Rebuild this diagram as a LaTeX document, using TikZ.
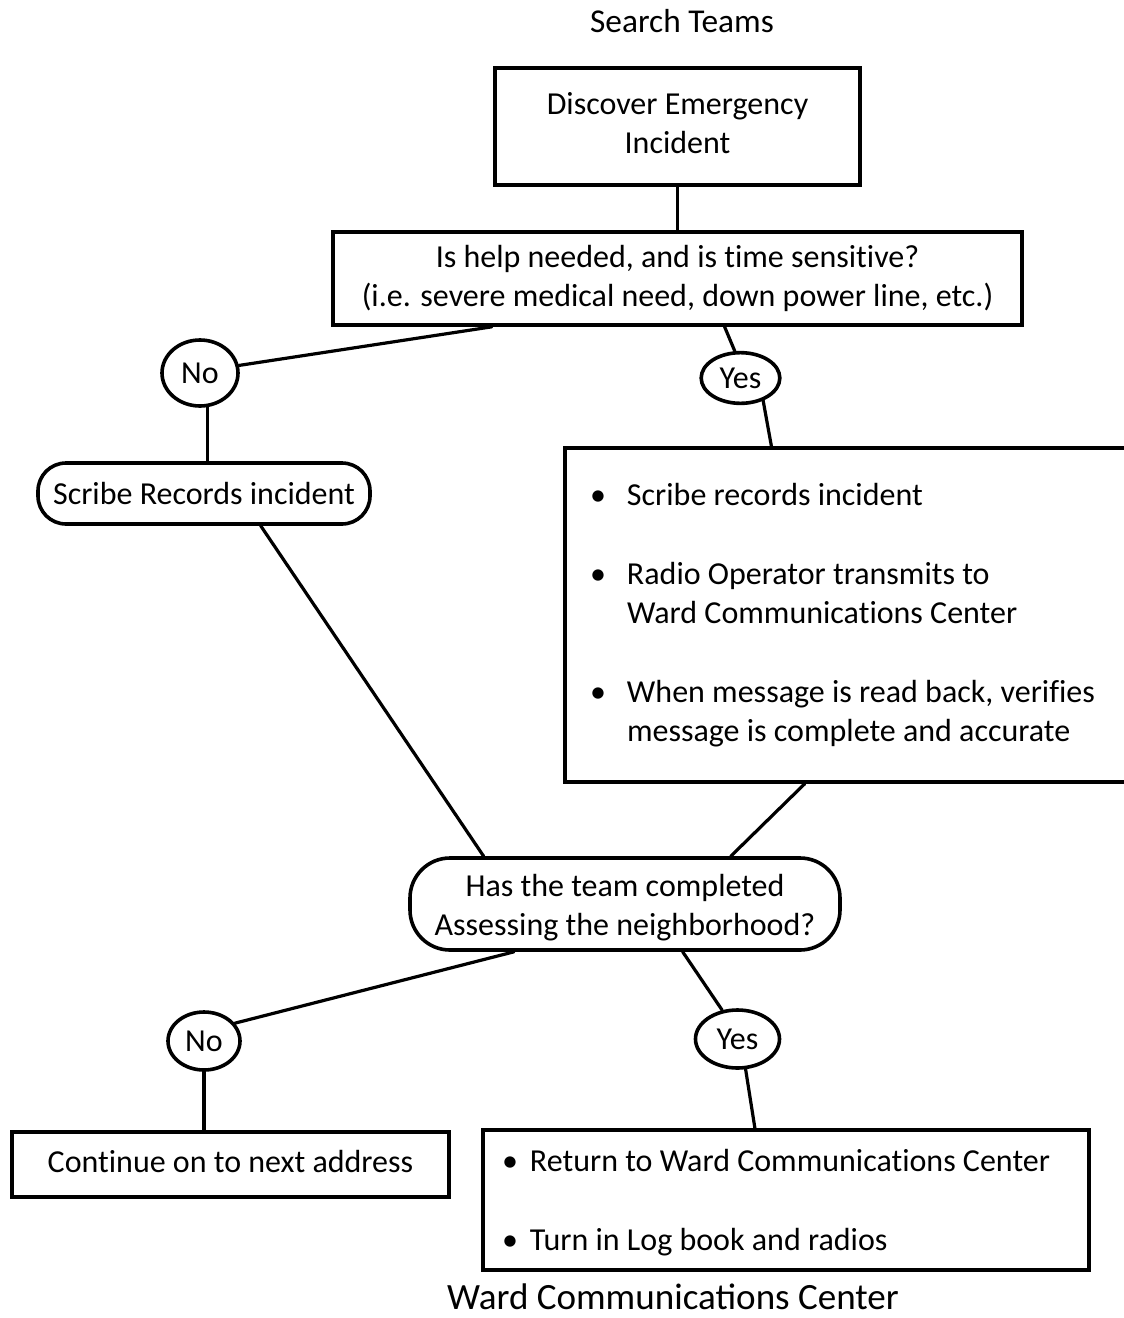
\documentclass[tikz,border=0pt]{standalone}
\usepackage{fontspec}
\setmainfont{Carlito}[Ligatures=NoCommon]
\usetikzlibrary{shapes.geometric,calc}
\begin{document}
\begin{tikzpicture}[x=0.75pt,y=-0.75pt,
  every node/.style={font=\fontsize{24}{29.25}\selectfont},
  box/.style={draw,rectangle,line width=2.7pt,inner sep=0pt,align=center},
  oval/.style={draw,ellipse,line width=2.7pt,inner sep=0pt},
  pill/.style={draw,rectangle,line width=2.7pt,inner sep=0pt,align=center},
  conn/.style={line width=2.4pt,line cap=round},
  titletext/.style={inner sep=0pt,anchor=base}]
\useasboundingbox (0,0) rectangle (1124,1318);
\clip (0,0) rectangle (1124,1318);

\node[titletext,font=\fontsize{25}{30}\selectfont] (title) at (682,32) {Search Teams};

\node[box,minimum width=273.75pt,minimum height=87.75pt] (box1) at (677.5,126.5)
  {\begin{tabular}{@{}c@{}}Discover Emergency\\Incident\end{tabular}};

\node[box,minimum width=516.75pt,minimum height=69.75pt] (box2) at (677.5,278.5)
  {\begin{tabular}{@{}c@{}}\rule{0pt}{22pt}Is help needed, and is time sensitive?\\(i.e. severe medical need, down power line, etc.)\end{tabular}};

\node[oval,minimum width=57pt,minimum height=49.5pt] (no1) at (200,373) {No};
\node[oval,minimum width=59pt,minimum height=38pt] (yes1) at (740.5,378) {Yes};

\node[pill,rounded corners=21pt,minimum width=249pt,minimum height=45.75pt] (scribe) at (204,493.5)
  {Scribe Records incident};

\node[box,minimum width=427.5pt,minimum height=250.5pt,inner xsep=3pt] (box3) at (850,615)
  {\makebox[421.5pt][l]{\begin{tabular}{@{}l@{}l@{}}
   \rule{0pt}{22pt}\makebox[43.5pt]{•} & Scribe records incident\\[30pt]
   \makebox[43.5pt]{•} & Radio Operator transmits to\\
    & Ward Communications Center\\[30pt]
   \makebox[43.5pt]{•} & When message is read back, verifies\\
    & message is complete and accurate
   \end{tabular}}};

\node[pill,rounded corners=30pt,minimum width=322.5pt,minimum height=69pt] (has) at (625,904)
  {\begin{tabular}{@{}c@{}}\rule{0pt}{26.5pt}Has the team completed\\Assessing the neighborhood?\end{tabular}};

\node[oval,minimum width=54pt,minimum height=43.5pt] (no2) at (204,1041) {No};
\node[oval,minimum width=63pt,minimum height=43.5pt] (yes2) at (737.5,1039) {Yes};

\node[box,minimum width=327.75pt,minimum height=48.75pt] (box4) at (230.5,1164.5)
  {\begin{tabular}{@{}c@{}}Continue on to next address\end{tabular}};

\node[box,minimum width=454.5pt,minimum height=105pt,inner xsep=5.25pt] (box5) at (786,1200)
  {\makebox[444pt][l]{\begin{tabular}{@{}l@{}l@{}}
   \rule{0pt}{25.5pt}\makebox[30pt]{•} & Return to Ward Communications Center\\[30pt]
   \makebox[30pt]{•} & Turn in Log book and radios
   \end{tabular}}};

\node[titletext,font=\fontsize{27.8}{33}\selectfont\addfontfeatures{Ligatures=Common}] (bottomtitle) at (673,1309) {Ward Communications Center};

% connectors
\draw[conn] (box1.south) -- (box2.north);
\draw[conn] ($(box2.south west)!0.232!(box2.south east)$) -- (no1.11);
\draw[conn] ($(box2.south west)!0.568!(box2.south east)$) -- (yes1.102);
\draw[conn] (yes1.-45) -- ($(box3.north west)!0.363!(box3.north east)$);
\draw[conn] (no1.-78) -- (no1.-78 |- scribe.north);
\draw[conn] ($(scribe.south west)!0.669!(scribe.south east)$) -- ($(has.north west)!0.174!(has.north east)$);
\draw[conn] ($(box3.south west)!0.421!(box3.south east)$) -- ($(has.north west)!0.744!(has.north east)$);
\draw[conn] ($(has.south west)!0.244!(has.south east)$) -- (no2.30);
\draw[conn] ($(has.south west)!0.633!(has.south east)$) -- (yes2.118);
\draw[conn] (no2.south) -- (no2.south |- box4.north);
\draw[conn] (yes2.-75) -- ($(box5.north west)!0.449!(box5.north east)$);
\end{tikzpicture}
\end{document}
